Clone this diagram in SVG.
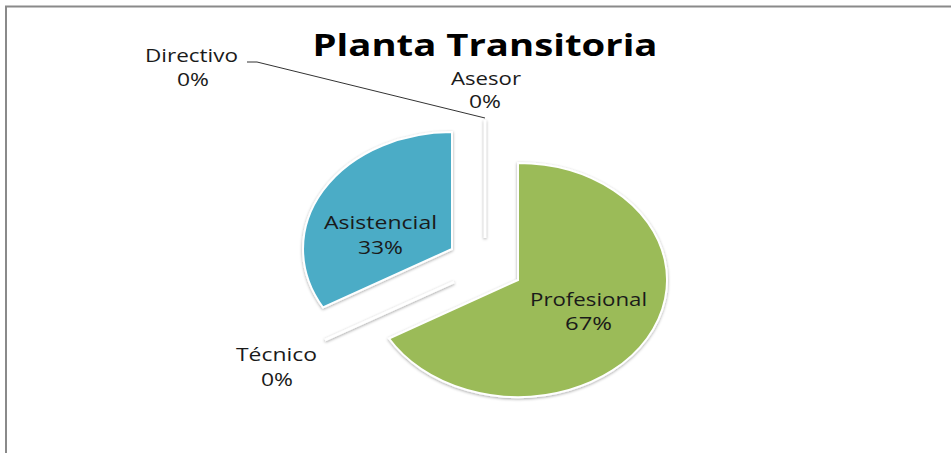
<svg xmlns="http://www.w3.org/2000/svg" width="951" height="453" viewBox="0 0 951 453">
  <style>
    .lbl { font-family: "Open Sans", "Liberation Sans", sans-serif; font-size: 18.5px; fill: #1a1a1a; text-anchor: middle; }
    .title { font-family: "Open Sans", "Liberation Sans", sans-serif; font-size: 31px; font-weight: bold; fill: #000; text-anchor: middle; }
    .slice { stroke: #ffffff; stroke-width: 2; filter: url(#shadow); }
    .zero { stroke: #ffffff; stroke-width: 2.5; filter: url(#shadow2); }
  </style>
  <defs>
    <filter id="shadow" x="-20%" y="-20%" width="140%" height="140%">
      <feDropShadow dx="0" dy="1" stdDeviation="1.6" flood-color="#000" flood-opacity="0.35"/>
    </filter>
    <filter id="shadow2" filterUnits="userSpaceOnUse" x="0" y="0" width="951" height="453">
      <feDropShadow dx="0" dy="1" stdDeviation="1.4" flood-color="#000" flood-opacity="0.4"/>
    </filter>
  </defs>
  <rect x="0" y="0" width="951" height="453" fill="#ffffff"/>
  <g id="frame" fill="none" stroke="#8a8a8a" stroke-width="2">
    <path d="M6,453 V6.5 H951"/>
  </g>
  <g id="title">
    <text class="title" x="485" y="56" textLength="345" lengthAdjust="spacingAndGlyphs">Planta Transitoria</text>
  </g>
  <g id="profesional">
    <path class="slice" fill="#9BBB59" d="M518,280 L518,163 A149,117 0 1 1 389,338.5 Z"/>
    <text class="lbl" x="588.5" y="306" textLength="117" lengthAdjust="spacingAndGlyphs">Profesional</text>
    <text class="lbl" x="588.5" y="330" textLength="47" lengthAdjust="spacingAndGlyphs">67%</text>
  </g>
  <g id="asistencial">
    <path class="slice" fill="#4BACC6" d="M452,249 L323,307.5 A149,117 0 0 1 452,132 Z"/>
    <text class="lbl" x="380.5" y="229" textLength="113" lengthAdjust="spacingAndGlyphs">Asistencial</text>
    <text class="lbl" x="380.5" y="254" textLength="45" lengthAdjust="spacingAndGlyphs">33%</text>
  </g>
  <g id="asesor">
    <line class="zero" x1="485" y1="120" x2="485" y2="238"/>
    <text class="lbl" x="486" y="85" textLength="70" lengthAdjust="spacingAndGlyphs">Asesor</text>
    <text class="lbl" x="485" y="108" textLength="32" lengthAdjust="spacingAndGlyphs">0%</text>
  </g>
  <g id="tecnico">
    <line class="zero" x1="454" y1="282" x2="325" y2="340"/>
    <text class="lbl" x="276.5" y="361" textLength="81" lengthAdjust="spacingAndGlyphs">Técnico</text>
    <text class="lbl" x="277" y="386" textLength="32" lengthAdjust="spacingAndGlyphs">0%</text>
  </g>
  <g id="directivo">
    <text class="lbl" x="191.5" y="61.5" textLength="93" lengthAdjust="spacingAndGlyphs">Directivo</text>
    <text class="lbl" x="193" y="86" textLength="32" lengthAdjust="spacingAndGlyphs">0%</text>
  </g>
  <g id="connectors">
    <polyline points="247,62 257,62 485,118" fill="none" stroke="#333333" stroke-width="1"/>
  </g>
</svg>
